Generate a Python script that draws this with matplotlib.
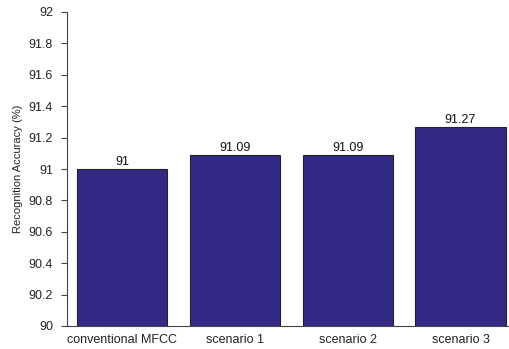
import matplotlib
matplotlib.use("Agg")
import matplotlib.pyplot as plt

categories = ["conventional MFCC", "scenario 1", "scenario 2", "scenario 3"]
values = [91.0, 91.09, 91.09, 91.27]
labels = ["91", "91.09", "91.09", "91.27"]
yticks = [90, 90.2, 90.4, 90.6, 90.8, 91, 91.2, 91.4, 91.6, 91.8, 92]
ytick_labels = ["90", "90.2", "90.4", "90.6", "90.8", "91", "91.2", "91.4", "91.6", "91.8", "92"]

plt.rcParams['font.family'] = ['Liberation Sans', 'DejaVu Sans']

fig = plt.figure(figsize=(5.09, 3.49), dpi=100)
ax = fig.add_axes([67/509, (349-326)/349, 1 - 67/509, (326-12)/349])
x = list(range(len(categories)))
ax.bar(x, [v - 90 for v in values], bottom=90, width=0.8, color="#332a85",
       edgecolor="#222222", linewidth=0.8)
for xi, v, lab in zip(x, values, labels):
    ax.text(xi, v + 0.005, lab, ha="center", va="bottom", fontsize=9, color="#111111")
ax.set_ylim(90, 92)
ax.set_xlim(-0.487, 3.43)
ax.set_yticks(yticks)
ax.set_yticklabels(ytick_labels, fontsize=9, color="#222222")
ax.set_xticks(x)
ax.set_xticklabels(categories, fontsize=9, color="#222222")
ax.tick_params(axis="x", length=0, pad=6)
ax.tick_params(axis="y", direction="out", length=4, width=0.8, color="#444444", pad=6)
ax.set_ylabel("Recognition Accuracy (%)", fontsize=8, color="#222222", labelpad=4)
for s in ["top", "right"]:
    ax.spines[s].set_visible(False)
for s in ["left", "bottom"]:
    ax.spines[s].set_color("#444444")
    ax.spines[s].set_linewidth(0.8)
fig.savefig("out.png", dpi=100)
